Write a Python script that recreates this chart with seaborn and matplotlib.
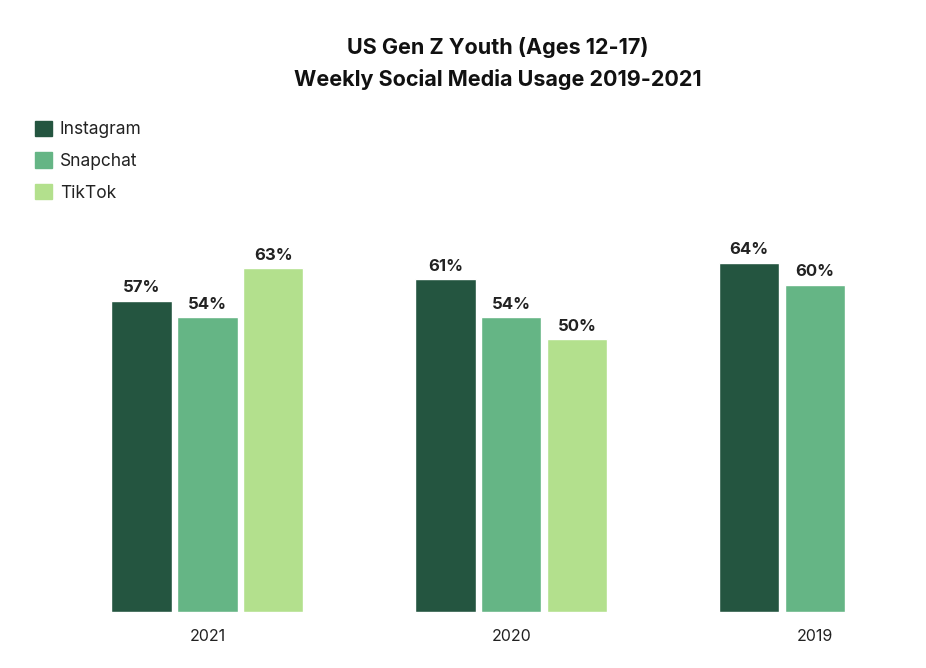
import pandas as pd
import numpy as np
import matplotlib.pyplot as plt
import seaborn as sns

years = ['2021', '2020', '2019']
platforms = ['Instagram', 'Snapchat', 'TikTok']
instagram = [57, 61, 64]
snapchat = [54, 54, 60]
tiktok = [63, 50, np.nan]
colors = ['#245540', '#65B585', '#B3E08D']

df = pd.DataFrame({
    'Year': years * 3,
    'Platform': [p for p in platforms for _ in years],
    'Share': instagram + snapchat + tiktok,
})

sns.set_style('white')
plt.rcParams['font.family'] = ['Inter', 'DejaVu Sans']

fig = plt.figure(figsize=(9.26, 6.68), dpi=100)
ax = fig.add_axes([30 / 926, 1 - 612 / 668, 870 / 926, 382 / 668])

sns.barplot(data=df, x='Year', y='Share', hue='Platform', order=years,
            hue_order=platforms, palette=colors, width=0.65, gap=0.08,
            saturation=1, ax=ax, legend=False)

# percent labels above bars
for cont in ax.containers:
    labels = ['' if np.isnan(v) else f'{v:.0f}%' for v in cont.datavalues]
    ax.bar_label(cont, labels=labels, padding=4, fontsize=12,
                 fontweight='bold', color='#222222')

ax.set_xlim(-0.584, 2.28)
ax.set_ylim(0, 70)
ax.set_yticks([])
ax.set_xlabel('')
ax.set_ylabel('')
ax.tick_params(axis='x', length=0, pad=12, labelsize=11.5, labelcolor='#222222')
sns.despine(ax=ax, left=True, bottom=True)

handles = [plt.Rectangle((0, 0), 1, 1, color=c) for c in colors]
fig.legend(handles, platforms, loc='upper left', bbox_to_anchor=(19 / 926, 1 - 105 / 668),
           frameon=False, fontsize=12.5, handlelength=1.0, handleheight=1.0,
           handletextpad=0.45, labelspacing=0.8, labelcolor='#222222')

fig.text(498 / 926, 1 - 47 / 668, 'US Gen Z Youth (Ages 12-17)', ha='center', va='center',
         fontsize=15.5, fontweight='bold', color='#111111')
fig.text(498 / 926, 1 - 80 / 668, 'Weekly Social Media Usage 2019-2021', ha='center', va='center',
         fontsize=15.5, fontweight='bold', color='#111111')

fig.savefig('out.png', dpi=100)
